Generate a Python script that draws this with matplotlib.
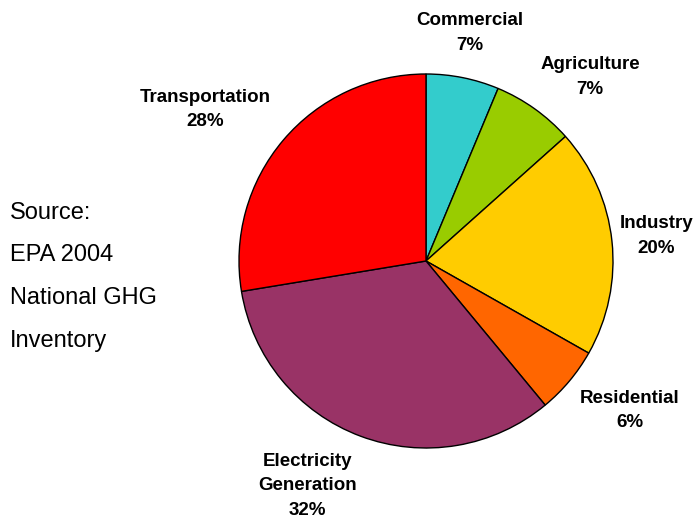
import matplotlib
matplotlib.use("Agg")
import matplotlib.pyplot as plt
import numpy as np

plt.rcParams['font.family'] = ['Liberation Sans', 'DejaVu Sans']

# Data (clockwise from 12 o'clock)
categories = ["Commercial", "Agriculture", "Industry", "Residential",
              "Electricity\nGeneration", "Transportation"]
shares = [6.3, 7.1, 19.8, 5.8, 33.4, 27.6]
pct_labels = ["7%", "7%", "20%", "6%", "32%", "28%"]
colors = ["#33CCCC", "#99CC00", "#FFCC00", "#FF6600", "#993366", "#FF0000"]
source_lines = ["Source:", "EPA 2004", "National GHG", "Inventory"]

# Label layout: (radius factor, angle in degrees)
label_layout = [(1.24, 79), (1.32, 48.3), (1.24, 6.2), (1.35, -36.3),
                (1.36, -117.8), (1.43, 145.5)]

W, H = 697, 519
fig = plt.figure(figsize=(W / 100, H / 100), dpi=100)
cx, cy, r = 426, 261, 187
ax = fig.add_axes([(cx - r) / W, (H - cy - r) / H, 2 * r / W, 2 * r / H])
ax.pie(shares, colors=colors, startangle=90, counterclock=False,
       radius=1, wedgeprops=dict(edgecolor="black", linewidth=1.0))
ax.set_xlim(-1, 1)
ax.set_ylim(-1, 1)
ax.set_aspect('auto')
ax.axis('off')

for name, pct, (rf, ang) in zip(categories, pct_labels, label_layout):
    a = np.deg2rad(ang)
    ax.text(rf * np.cos(a), rf * np.sin(a), f"{name}\n{pct}",
            ha='center', va='center', fontsize=13.5, fontweight='bold',
            linespacing=1.6, clip_on=False)

ys = [213, 255, 298, 341]
for line, y in zip(source_lines, ys):
    fig.text(10 / W, 1 - y / H, line, ha='left', va='center', fontsize=17)

fig.savefig("out.png", dpi=100)
